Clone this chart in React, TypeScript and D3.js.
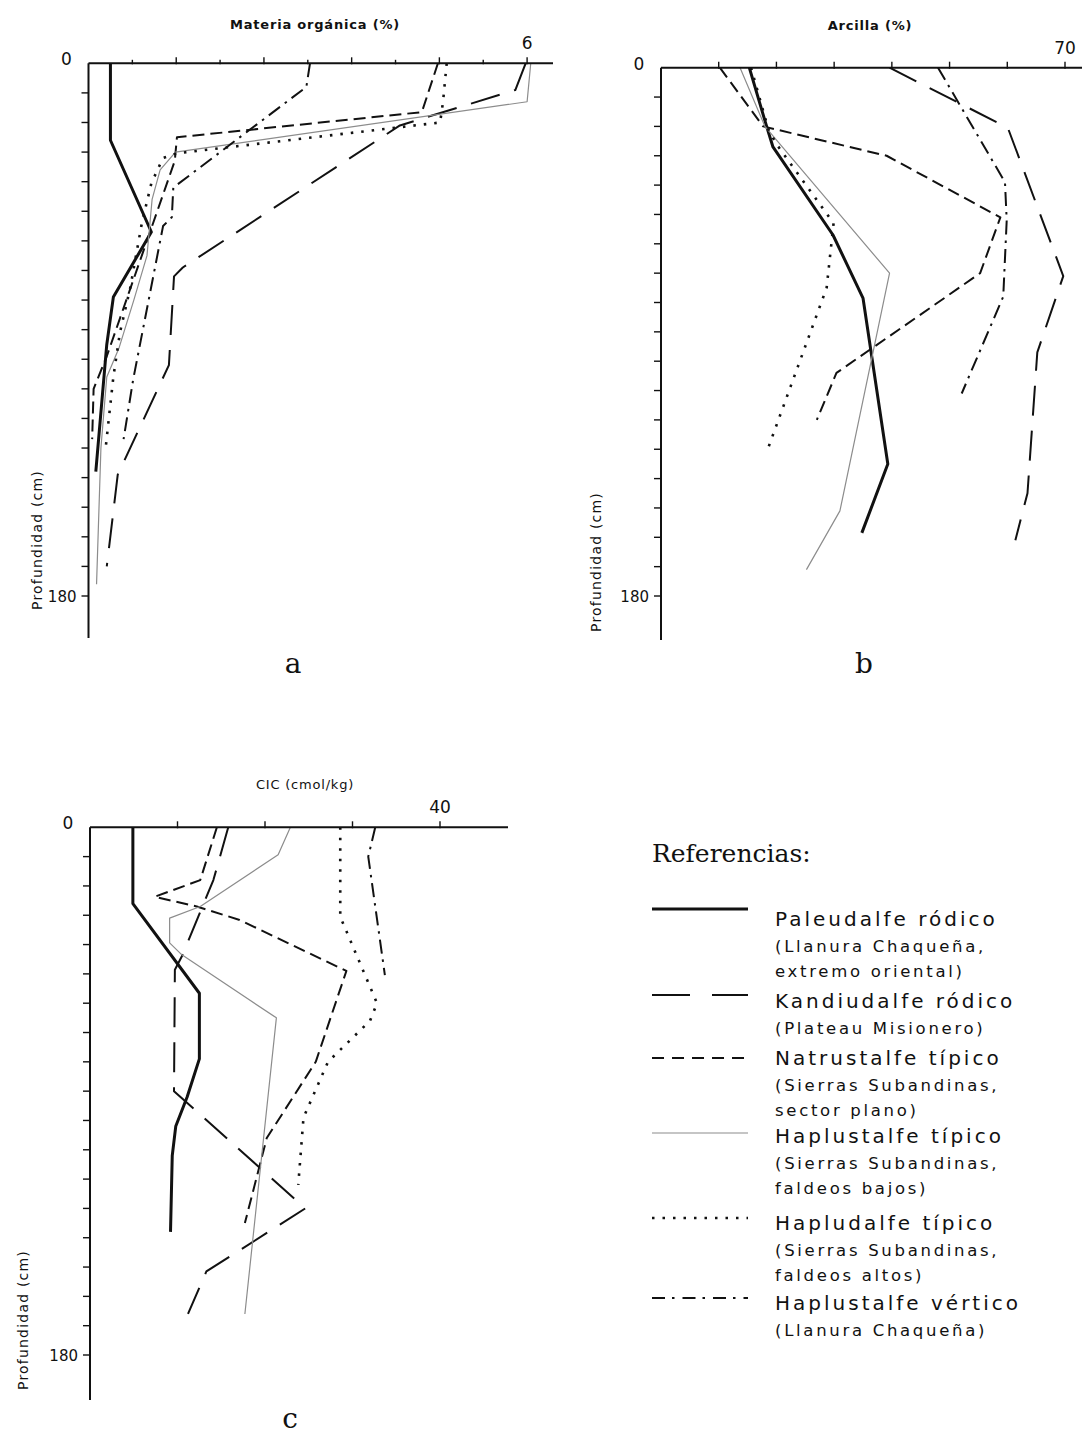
import React from "react";
import * as d3 from "d3";

type Pt = [number, number]; // [profundidad cm, valor]

const seriesNames = [
  "Paleudalfe ródico",
  "Kandiudalfe ródico",
  "Natrustalfe típico",
  "Haplustalfe típico",
  "Hapludalfe típico",
  "Haplustalfe vértico",
];
const seriesNotes = [
  ["(Llanura Chaqueña,", "extremo oriental)"],
  ["(Plateau Misionero)"],
  ["(Sierras Subandinas,", "sector plano)"],
  ["(Sierras Subandinas,", "faldeos bajos)"],
  ["(Sierras Subandinas,", "faldeos altos)"],
  ["(Llanura Chaqueña)"],
];

// a: Materia orgánica (%)
const moPaleudalfe: Pt[] = [[0, 0.3], [26, 0.3], [57, 0.86], [79, 0.34], [95, 0.25], [138, 0.1]];
const moKandiudalfe: Pt[] = [[0, 5.98], [9, 5.84], [21, 4.26], [69, 1.29], [72, 1.17], [102, 1.1], [139, 0.4], [170, 0.25]];
const moNatrustalfe: Pt[] = [[0, 4.78], [16.5, 4.56], [25, 1.21], [33, 1.18], [99, 0.25], [110, 0.07], [127, 0.05]];
const moHaplustalfe: Pt[] = [[0, 6.05], [13, 6.0], [30, 1.19], [36, 0.98], [46, 0.87], [65, 0.8], [80, 0.62], [96, 0.42], [106, 0.25], [130, 0.17], [176, 0.11]];
const moHapludalfe: Pt[] = [[0, 4.9], [13, 4.85], [20, 4.81], [30.4, 1.21], [32, 1.02], [40.5, 0.86], [54, 0.73], [76, 0.57], [91, 0.43], [106, 0.34], [131, 0.23]];
const moVertico: Pt[] = [[0, 3.03], [8, 2.98], [42, 1.16], [52, 1.14], [55, 1.02], [107, 0.61], [127, 0.48]];

// b: Arcilla (%)
const arPaleudalfe: Pt[] = [[0, 15.3], [20, 18.3], [27, 19.4], [57, 29.8], [78.5, 35.0], [135, 39.3], [158.5, 34.8]];
const arKandiudalfe: Pt[] = [[0, 39.6], [20.5, 60.1], [71, 69.7], [97, 65.2], [145, 63.5], [161, 61.4]];
const arNatrustalfe: Pt[] = [[0, 10.2], [20, 17.7], [30, 39.1], [51, 58.8], [70, 55.3], [104, 30.4], [120, 27.0]];
const arHaplustalfe: Pt[] = [[0, 13.7], [20, 18.0], [70, 39.6], [151, 31.0], [171, 25.2]];
const arHapludalfe: Pt[] = [[0, 15.6], [21, 18.6], [26, 20.0], [53, 29.9], [75, 28.7], [131, 18.3]];
const arVertico: Pt[] = [[0, 48.0], [39, 59.6], [52, 59.9], [78, 59.3], [111, 52.1]];

// c: CIC (cmol/kg)
const cicPaleudalfe: Pt[] = [[0, 4.9], [26, 4.9], [56.6, 12.5], [79, 12.5], [92, 11.1], [102, 9.8], [112, 9.4], [138, 9.2]];
const cicKandiudalfe: Pt[] = [[0, 15.8], [18, 14.1], [44, 10.5], [48.6, 9.7], [90, 9.6], [130, 24.6], [151.5, 13.3], [166, 11.2]];
const cicNatrustalfe: Pt[] = [[0, 14.5], [18, 12.6], [23.7, 7.4], [27, 12.2], [31.6, 17.1], [49, 29.3], [80, 25.8], [106, 20.2], [135, 17.7]];
const cicHaplustalfe: Pt[] = [[0, 22.9], [9.4, 21.5], [27, 12.6], [31, 9.1], [39.4, 9.1], [43.5, 10.5], [65, 21.3], [166, 17.7]];
const cicHapludalfe: Pt[] = [[0, 28.6], [30.5, 28.6], [60, 32.8], [66, 32.0], [80, 27.2], [99, 24.4], [122, 23.8]];
const cicVertico: Pt[] = [[0, 32.6], [10, 31.8], [50.4, 33.7]];

const moTicks = d3.range(1, 11).map((k) => k * 0.6);
const arTicks = [10, 20, 30, 40, 50, 60, 70];
const cicTicks = [10, 20, 30, 40];
const depthTicks = d3.range(10, 181, 10);
const panelLabels = ["a", "b", "c"];
const axisTitles = ["Materia orgánica (%)", "Arcilla (%)", "CIC (cmol/kg)"];
const maxLabels = ["6", "70", "40"];
const depthMaxLabel = "180";
const depthTitle = "Profundidad (cm)";

const lineStyles = [
  { stroke: "#111", width: 3, dash: undefined as string | undefined, legendDash: undefined as string | undefined },
  { stroke: "#111", width: 2, dash: "30,15", legendDash: "38,22" },
  { stroke: "#111", width: 2, dash: "12,6", legendDash: "12,8" },
  { stroke: "#8c8c8c", width: 1.2, dash: undefined, legendDash: undefined },
  { stroke: "#111", width: 2.6, dash: "2.5,8", legendDash: "2.5,8" },
  { stroke: "#111", width: 2, dash: "14,6,2.5,6", legendDash: "13,7,2.5,8" },
];

const SANS = "'DejaVu Sans', sans-serif";
const SERIF = "'DejaVu Serif', serif";

type PanelCfg = {
  series: Pt[][];
  xMax: number;
  xRange: [number, number];
  yRange: [number, number];
  xAxisEnd: number;
  yAxisEnd: number;
  ticks: number[];
  majorEvery: number;
  title: string;
  titleX: number;
  titleY: number;
  maxLabel: string;
  depthTitleX: number;
  depthTitleY: number;
  label: string;
  labelX: number;
  labelY: number;
  titleWeight: number;
};

const panels: PanelCfg[] = [
  {
    series: [moPaleudalfe, moKandiudalfe, moNatrustalfe, moHaplustalfe, moHapludalfe, moVertico],
    xMax: 6, xRange: [88.5, 527.1], yRange: [63.3, 596], xAxisEnd: 553, yAxisEnd: 638,
    ticks: moTicks, majorEvery: 2, title: axisTitles[0], titleX: 315, titleY: 29,
    maxLabel: maxLabels[0], depthTitleX: 37, depthTitleY: 540, label: panelLabels[0], labelX: 293, labelY: 673, titleWeight: 700,
  },
  {
    series: [arPaleudalfe, arKandiudalfe, arNatrustalfe, arHaplustalfe, arHapludalfe, arVertico],
    xMax: 70, xRange: [661, 1065], yRange: [67.7, 596], xAxisEnd: 1082, yAxisEnd: 640,
    ticks: arTicks, majorEvery: 1, title: axisTitles[1], titleX: 870, titleY: 30,
    maxLabel: maxLabels[1], depthTitleX: 596, depthTitleY: 562, label: panelLabels[1], labelX: 864, labelY: 673, titleWeight: 700,
  },
  {
    series: [cicPaleudalfe, cicKandiudalfe, cicNatrustalfe, cicHaplustalfe, cicHapludalfe, cicVertico],
    xMax: 40, xRange: [90, 440], yRange: [827.3, 1355], xAxisEnd: 508, yAxisEnd: 1400,
    ticks: cicTicks, majorEvery: 1, title: axisTitles[2], titleX: 305, titleY: 789,
    maxLabel: maxLabels[2], depthTitleX: 23, depthTitleY: 1320, label: panelLabels[2], labelX: 290, labelY: 1428, titleWeight: 400,
  },
];

function Panel({ cfg }: { cfg: PanelCfg }) {
  const xs = d3.scaleLinear().domain([0, cfg.xMax]).range(cfg.xRange);
  const ys = d3.scaleLinear().domain([0, 180]).range(cfg.yRange);
  const line = d3.line<Pt>().x((d) => xs(d[1])).y((d) => ys(d[0]));
  const x0 = xs(0);
  const y0 = ys(0);
  return (
    <g>
      {cfg.series.map((s, i) => {
        const st = lineStyles[i];
        return (
          <path
            key={i}
            d={line(s) || ""}
            fill="none"
            stroke={st.stroke}
            strokeWidth={st.width}
            strokeDasharray={st.dash}
            strokeLinejoin="round"
          />
        );
      })}
      <line x1={x0} y1={y0} x2={cfg.xAxisEnd} y2={y0} stroke="#111" strokeWidth={2} />
      <line x1={x0} y1={y0} x2={x0} y2={cfg.yAxisEnd} stroke="#111" strokeWidth={2} />
      {cfg.ticks.map((t, i) => {
        const major = (i + 1) % cfg.majorEvery === 0;
        return (
          <line key={"xt" + i} x1={xs(t)} x2={xs(t)} y1={y0 + 1} y2={y0 - (major ? 6 : 3.5)} stroke="#111" strokeWidth={1.4} />
        );
      })}
      {depthTicks.map((t) => (
        <line key={"yt" + t} x1={x0 - 7} x2={x0} y1={ys(t)} y2={ys(t)} stroke="#111" strokeWidth={1.4} />
      ))}
      <text x={x0 - 22} y={y0 - 3} fontFamily={SANS} fontSize={17} textAnchor="middle" dominantBaseline="middle" fill="#111">0</text>
      <text x={xs(cfg.xMax)} y={y0 - 14} fontFamily={SANS} fontSize={17} textAnchor="middle" fill="#111">{cfg.maxLabel}</text>
      <text x={x0 - 12} y={ys(180) + 5.5} fontFamily={SANS} fontSize={15} textAnchor="end" fill="#111">{depthMaxLabel}</text>
      <text x={cfg.titleX} y={cfg.titleY} fontFamily={SANS} fontSize={13} fontWeight={cfg.titleWeight} letterSpacing={0.8} textAnchor="middle" fill="#111">{cfg.title}</text>
      <text
        x={cfg.depthTitleX}
        y={cfg.depthTitleY}
        transform={`rotate(-90 ${cfg.depthTitleX} ${cfg.depthTitleY})`}
        fontFamily={SANS}
        fontSize={14}
        letterSpacing={1.2}
        textAnchor="middle"
        dominantBaseline="central"
        fill="#111"
      >
        {depthTitle}
      </text>
      <text x={cfg.labelX} y={cfg.labelY} fontFamily={SERIF} fontSize={28} textAnchor="middle" fill="#111">{cfg.label}</text>
    </g>
  );
}

const legendLineY = [909, 995, 1058, 1133, 1218, 1298];
const legendNameY = [926, 1008, 1065, 1143, 1230, 1310];

function Legend() {
  const lx0 = 652;
  const lx1 = 748;
  const tx = 775;
  return (
    <g>
      <text x={652} y={862} fontFamily={SERIF} fontSize={25} fill="#111">Referencias:</text>
      {seriesNames.map((name, i) => {
        const st = lineStyles[i];
        return (
          <g key={name}>
            <line
              x1={lx0}
              x2={lx1}
              y1={legendLineY[i]}
              y2={legendLineY[i]}
              stroke={st.stroke}
              strokeWidth={st.width}
              strokeDasharray={st.legendDash}
            />
            <text x={tx} y={legendNameY[i]} fontFamily={SANS} fontSize={20} letterSpacing={3} fill="#111">{name}</text>
            {seriesNotes[i].map((note, j) => (
              <text key={j} x={tx} y={legendNameY[i] + 25.5 * (j + 1)} fontFamily={SANS} fontSize={16.5} letterSpacing={2.7} fill="#111">{note}</text>
            ))}
          </g>
        );
      })}
    </g>
  );
}

export default function App() {
  return (
    <svg
      width={1084}
      height={1437}
      viewBox="0 0 1084 1437"
      style={{ position: "absolute", left: 0, top: 0, background: "#fff" }}
    >
      <rect x={0} y={0} width={1084} height={1437} fill="#fff" />
      {panels.map((p, i) => (
        <Panel key={i} cfg={p} />
      ))}
      <Legend />
    </svg>
  );
}
